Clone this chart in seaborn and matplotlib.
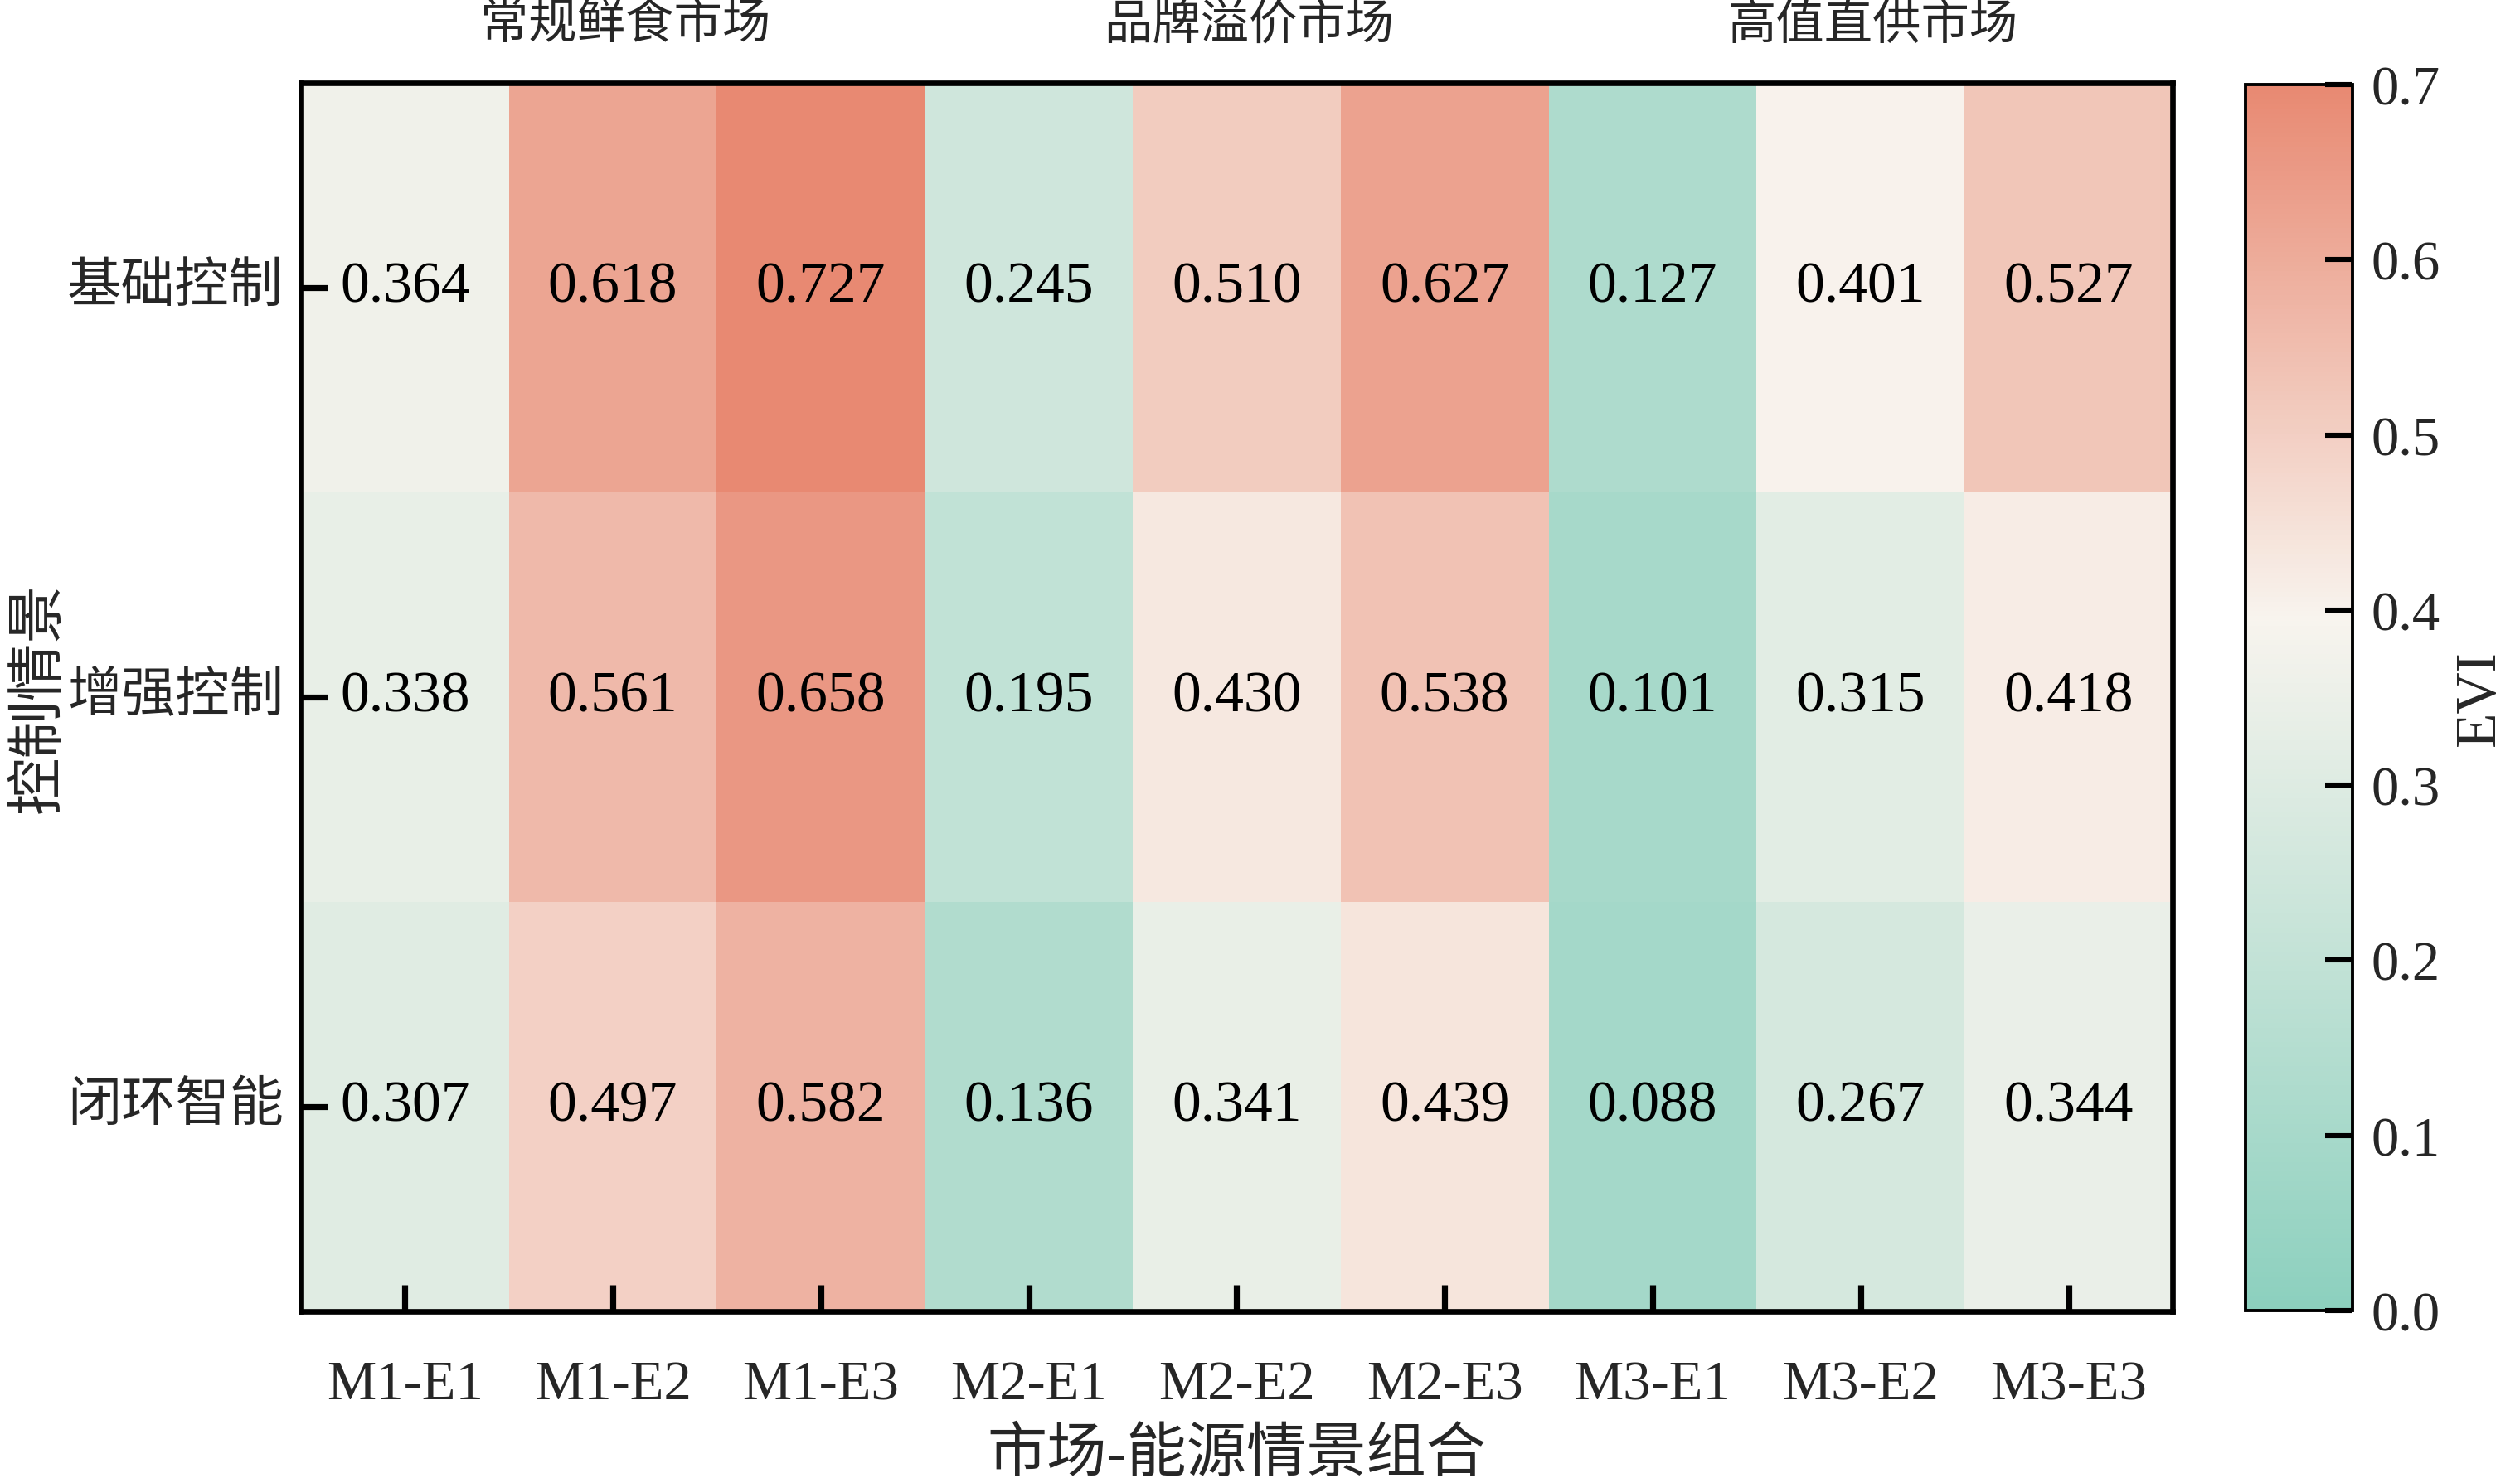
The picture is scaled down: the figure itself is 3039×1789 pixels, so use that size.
import numpy as np
import pandas as pd
import matplotlib
matplotlib.use("Agg")
import matplotlib.pyplot as plt
from matplotlib.colors import LinearSegmentedColormap
import seaborn as sns

# data
scenarios = ['基础控制', '增强控制', '闭环智能']
combos = ['M1-E1', 'M1-E2', 'M1-E3', 'M2-E1', 'M2-E2', 'M2-E3', 'M3-E1', 'M3-E2', 'M3-E3']
markets = ['常规鲜食市场', '品牌溢价市场', '高值直供市场']

evi_basic = [0.364, 0.618, 0.727, 0.245, 0.510, 0.627, 0.127, 0.401, 0.527]
evi_enhanced = [0.338, 0.561, 0.658, 0.195, 0.430, 0.538, 0.101, 0.315, 0.418]
evi_closed = [0.307, 0.497, 0.582, 0.136, 0.341, 0.439, 0.088, 0.267, 0.344]

cbar_ticks = [0.0, 0.1, 0.2, 0.3, 0.4, 0.5, 0.6, 0.7]

df = pd.DataFrame([evi_basic, evi_enhanced, evi_closed], index=scenarios, columns=combos)

sns.set_style('white')
plt.rcParams['font.family'] = ['Liberation Serif', 'Noto Sans CJK SC']
plt.rcParams['axes.unicode_minus'] = False
plt.rcParams['axes.axisbelow'] = False

cmap = LinearSegmentedColormap.from_list(
    'evi', [(0.0, '#8cd0be'), (0.565, '#f8f4ee'), (1.0, '#e88972')])

fig = plt.figure(figsize=(15.195, 8.95), dpi=200)
ax = fig.add_axes([0.1194, 0.1156, 0.7427, 0.828])
cax = fig.add_axes([0.8911, 0.1162, 0.04245, 0.8263])

sns.heatmap(df, ax=ax, cbar_ax=cax, cmap=cmap, vmin=0, vmax=0.7,
            annot=True, fmt='.3f', annot_kws={'size': 25, 'color': 'black'},
            linewidths=0)
ax.set_axisbelow(False)

for s in ax.spines.values():
    s.set_visible(True)
    s.set_linewidth(2.4)
    s.set_color('black')

ax.tick_params(axis='both', direction='in', length=11.5, width=2.6, color='black',
               bottom=True, left=True, top=False, right=False)
ax.tick_params(axis='x', labelsize=24, pad=21)
ax.tick_params(axis='y', labelsize=23.5, pad=7.5)
plt.setp(ax.get_yticklabels(), rotation=0)
plt.setp(ax.get_xticklabels(), rotation=0)

ax.set_xlabel('市场-能源情景组合', fontsize=26)
ax.xaxis.set_label_coords(0.5, -0.094)
ax.xaxis.label.set_va('top')
ax.set_ylabel('控制情景', fontsize=25)
ax.yaxis.set_label_coords(-0.125, 0.5)

# market group titles above the columns
for i, m in enumerate(markets):
    ax.text(3 * i + 1.56, 1.047, m, transform=ax.get_xaxis_transform(),
            ha='center', va='center', fontsize=21)

cbar = ax.collections[0].colorbar
cbar.ax.set_axisbelow(False)
cbar.set_ticks(cbar_ticks)
cbar.set_ticklabels([f'{t:.1f}' for t in cbar_ticks])
cbar.outline.set_linewidth(1.4)
cbar.outline.set_edgecolor('black')
cbar.ax.tick_params(direction='in', length=12, width=2.2, labelsize=24, pad=8, color='black',
                    right=True, left=False)
cbar.set_label('EVI', fontsize=25, labelpad=6)

fig.savefig('out.png', dpi=200)
